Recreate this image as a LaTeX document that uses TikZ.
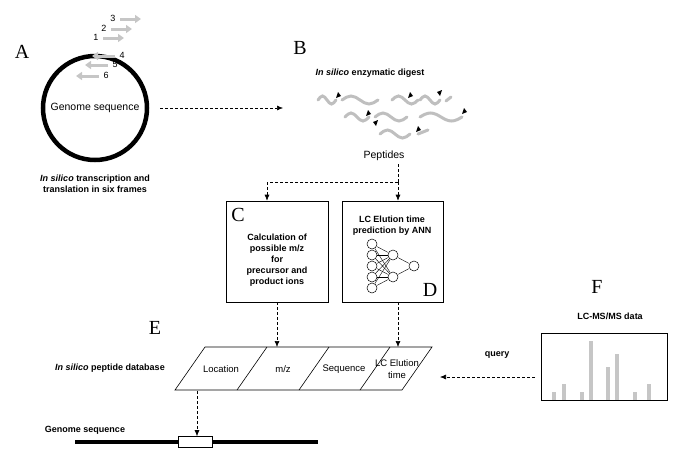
\documentclass[tikz,border=0pt]{standalone}
\usepackage{fontspec}
\setmainfont{Liberation Sans}
\newfontfamily\lettr{Liberation Serif}
\usetikzlibrary{arrows.meta}
\begin{document}
\begin{tikzpicture}[x=1pt,y=-1pt,
  lt/.style={font=\lettr\fontsize{20}{20}\selectfont},
  txt/.style={font=\fontsize{10.5}{12}\selectfont},
  btxt/.style={font=\bfseries\fontsize{9}{11}\selectfont,align=center},
  dar/.style={densely dashed,-{Latex[length=6pt,width=5pt]},line width=0.6pt},
  dln/.style={densely dashed,line width=0.6pt},
  frame/.style={line width=3pt,gray!45,-{Triangle[length=6pt,width=8pt]}},
  wave/.style={line width=3pt,gray!50,line cap=round},
  cut/.style={fill=black},
  nn/.style={circle,draw,line width=0.5pt,minimum size=10pt,inner sep=0pt},
  cellt/.style={font=\fontsize{9.5}{12}\selectfont,align=center}]
\useasboundingbox (0,0) rectangle (685,472);
% A
\node[lt] (A) at (22,52) {A};
\node[draw,circle,line width=4.5pt,minimum size=104pt] (circ) at (95,108) {};
\node[txt] (gs) at (95,108) {Genome sequence};
\foreach \n/\x/\y/\d in {3/120/19/1,2/111/29/1,1/103/38/1}{
  \draw[frame] (\x,\y) -- +(21,0);
  \node[font=\fontsize{9}{9}\selectfont,anchor=east] (f\n) at (\x-1,\y-1) {\n};}
\foreach \n/\x/\y in {4/115/56,5/108/65,6/99/76}{
  \draw[frame] (\x,\y) -- +(-23,0);
  \node[font=\fontsize{9}{9}\selectfont,anchor=west] (f\n) at (\x+1,\y-1) {\n};}
\node[btxt] (capA) at (95,184) {\textit{In silico} transcription and\\translation in six frames};
\coordinate (a1) at (160,108);
\coordinate (a2) at (283,108);
\draw[dar] (a1) -- (a2);
% B
\node[lt] (B) at (300,48) {B};
\node[btxt] (dig) at (370,73) {\textit{In silico} enzymatic digest};
\foreach \x/\y/\a in {318/100/4.5,342/100/9,392/100/6.5,420/100/5,345/117/6,375/117/8,420/117/10.5,380/134/7.5}{
  \draw[wave] (\x,\y) sin +(\a,-4) cos +(\a,4) sin +(\a,4) cos +(\a,-4);}
\draw[wave] (446,101) -- (451,97);
\draw[wave] (418,134) -- (428,130);
\foreach \x/\y/\r in {338/92/0,410/92/0,440/96/180,368/110/0,464/108/0,376/126/180,418/126/0}{
  \fill[cut,rotate around={\r:(\x,\y)}] (\x,\y) -- ++(-2,6) -- ++(5,-2) -- cycle;}
\node[txt] (pep) at (384,156) {Peptides};
\coordinate (j) at (398,182);
\coordinate (jl) at (267,182);
% C
\node[draw,line width=0.6pt,minimum width=102pt,minimum height=101pt] (C) at (277,251.5) {};
\node[lt] (Cl) at (238,215) {C};
\node[btxt] (Ct) at (277,260) {Calculation of\\possible m/z\\for\\precursor and\\product ions};
% D
\node[draw,line width=0.6pt,minimum width=101pt,minimum height=101pt] (D) at (392.5,251.5) {};
\node[lt] (Dl) at (430,290) {D};
\node[btxt] (Dt) at (392,226) {LC Elution time\\prediction by ANN};
\foreach \i/\y in {1/244,2/255,3/266,4/277,5/288}{\node[nn] (i\i) at (372,\y) {};}
\node[nn] (h1) at (393,255) {};
\node[nn] (h2) at (393,277) {};
\node[nn] (o) at (414,266) {};
\foreach \i in {1,...,5}{\draw[line width=0.4pt] (i\i) -- (h1); \draw[line width=0.4pt] (i\i) -- (h2);}
\draw[line width=0.4pt] (h1) -- (o) (h2) -- (o);
\draw[dln] (pep.south -| j) -- (j);
\draw[dar] (j) -- (D.north -| j);
\draw[dln] (j) -- (jl);
\draw[dar] (jl) -- (C.north -| jl);
% E
\node[lt] (E) at (155,328) {E};
\coordinate (p1) at (175,390); \coordinate (p2) at (205,347);
\coordinate (p3) at (432,347); \coordinate (p4) at (402,390);
\draw[line width=0.6pt] (p1) -- (p2) -- (p3) -- (p4) -- cycle;
\draw[line width=0.6pt] (237,390) -- (267,347) (299,390) -- (329,347) (360,390) -- (390,347);
\node[cellt] (loc) at (221,369) {Location};
\node[cellt] (mz) at (283,369) {m/z};
\node[cellt] (seq) at (344,369) {Sequence};
\node[cellt] (lce) at (397,369) {LC Elution\\time};
\draw[dar] (C.south) -- (C.south |- p2);
\draw[dar] (D.south -| j) -- (j |- p2);
\node[btxt] (dbl) at (110,368) {\textit{In silico} peptide database};
% F
\node[lt] (F) at (597,287) {F};
\node[btxt] (lcms) at (610,316) {LC-MS/MS data};
\node[draw,line width=0.6pt,minimum width=126pt,minimum height=67pt] (Fb) at (604,366.5) {};
\foreach \x/\t in {554/392,564/384,582/392,591/341,608/367,617/354,635/392,649/384}{
  \fill[gray!45] (\x-2,\t) rectangle (\x+2,400);}
\coordinate (q1) at (535,377);
\coordinate (q2) at (440,377);
\draw[dar] (q1) -- (q2);
\node[btxt] (qry) at (497,355) {query};
% genome line
\node[btxt] (gsl) at (85,430) {Genome sequence};
\draw[line width=4pt] (75,442) coordinate (g1) -- (318,442) coordinate (g2);
\node[draw,fill=white,line width=0.6pt,minimum width=34pt,minimum height=11pt,inner sep=0pt] (gbox) at (195,442) {};
\draw[dar] (197,391) -- (gbox.north -| 197,391);
\end{tikzpicture}
\end{document}
